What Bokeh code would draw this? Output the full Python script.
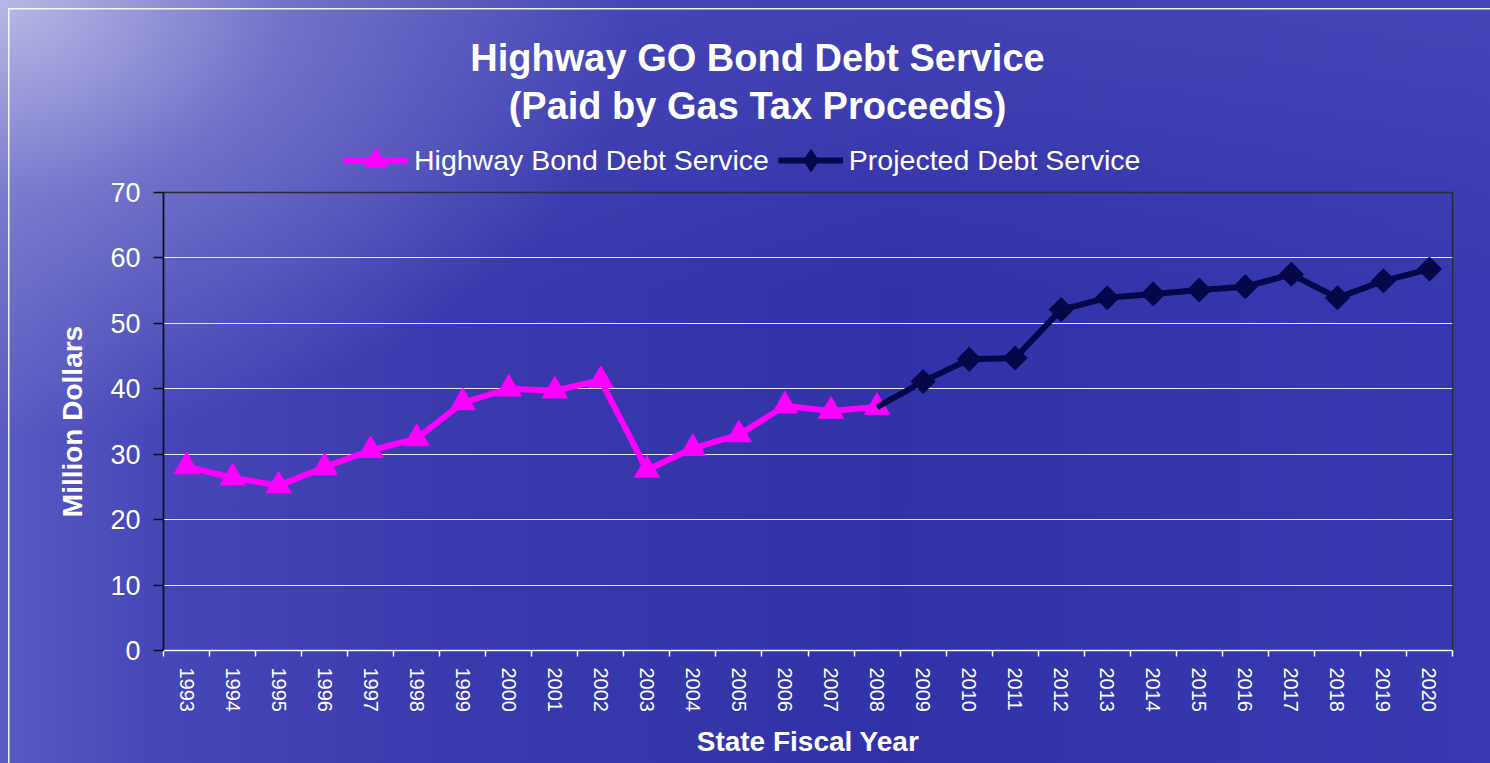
import numpy as np
from bokeh.plotting import figure
from bokeh.layouts import column
from bokeh.models import Legend, LegendItem, Label, FixedTicker, Range1d
from bokeh.embed import file_html
from bokeh.resources import INLINE

# ---- data ----
years = list(range(1993, 2021))
hist_years = list(range(1993, 2009))
hist_values = [28.1, 26.4, 25.2, 28.0, 30.6, 32.4, 37.9, 40.0, 39.7, 41.3,
               27.6, 30.9, 33.0, 37.4, 36.6, 37.2]
proj_years = list(range(2008, 2021))
proj_values = [37.2, 41.1, 44.5, 44.7, 52.1, 53.9, 54.5, 55.1, 55.6, 57.5,
               53.9, 56.5, 58.3]
y_ticks = [0, 10, 20, 30, 40, 50, 60, 70]
grid_ticks = [10, 20, 30, 40, 50, 60]

title_line1 = "Highway GO Bond Debt Service"
title_line2 = "(Paid by Gas Tax Proceeds)"
series_names = ["Highway Bond Debt Service", "Projected Debt Service"]
x_title = "State Fiscal Year"
y_title = "Million Dollars"

FONT = "Liberation Sans"
PINK = "#ff00ff"
NAVY = "#06064a"
W, HEAD_H, MAIN_H = 1490, 178, 585
BL, BR = 163, 38   # left / right borders (frames of both figures aligned)

BG_STYLES = {
    "background-image": (
        "linear-gradient(rgba(255,255,255,0.9), rgba(255,255,255,0.9)), "
        "linear-gradient(rgba(255,255,255,0.9), rgba(255,255,255,0.9)), "
        "radial-gradient(ellipse 640px 440px at 0px 0px, rgba(200,200,236,0.85) 0%, "
        "rgba(160,160,220,0.45) 45%, rgba(140,140,215,0) 100%), "
        "linear-gradient(180deg, rgba(95,95,200,0.35) 0%, rgba(95,95,200,0) 38%), "
        "linear-gradient(90deg, #5a5ac3 0%, #4747b8 10%, #3a3aae 30%, #3232a8 60%, #3838b0 100%)"
    ),
    "background-position": "8px 8px, 8px 8px, 0 0, 0 0, 0 0",
    "background-size": "1.5px 100%, 100% 1.5px, 100% 100%, 100% 100%, 100% 100%",
    "background-repeat": "no-repeat",
}

# ---- header (titles + legend); its frame uses page pixels ----
head = figure(width=W, height=HEAD_H, output_backend="svg", toolbar_location=None,
              x_range=Range1d(BL, W - BR), y_range=Range1d(HEAD_H, 0),
              x_axis_type=None, y_axis_type=None,
              min_border_left=BL, min_border_right=BR,
              min_border_top=0, min_border_bottom=0)
head.background_fill_alpha = 0
head.border_fill_alpha = 0
head.outline_line_color = None
head.grid.grid_line_color = None

for txt, yy in [(title_line1, 57), (title_line2, 105)]:
    head.add_layout(Label(x=757, y=yy, text=txt, text_align="center",
                          text_baseline="middle", text_color="white",
                          text_font=FONT, text_font_style="bold",
                          text_font_size="38px"))

# legend proxies: same series, they fall outside the header's ranges
hl1 = head.line(hist_years, hist_values, line_color=PINK, line_width=6)
hs1 = head.scatter(hist_years, hist_values, marker="triangle",
                   fill_color=PINK, line_color=PINK)
hl2 = head.line(proj_years, proj_values, line_color=NAVY, line_width=6)
hs2 = head.scatter(proj_years, proj_values, marker="diamond",
                   fill_color=NAVY, line_color=NAVY)
legend = Legend(items=[LegendItem(label=series_names[0], renderers=[hl1, hs1]),
                       LegendItem(label=series_names[1], renderers=[hl2, hs2])],
                orientation="horizontal", location=(180, -10),
                background_fill_alpha=0, border_line_color=None,
                label_text_color="white", label_text_font=FONT,
                label_text_font_size="28.5px",
                glyph_width=65, glyph_height=56, label_standoff=6,
                spacing=9, padding=0, margin=0)
head.add_layout(legend, "center")

# ---- main chart ----
p = figure(width=W, height=MAIN_H, output_backend="svg", toolbar_location=None,
           x_range=Range1d(years[0] - 0.5, years[-1] + 0.5),
           y_range=Range1d(0, 70),
           min_border_left=BL, min_border_right=BR,
           min_border_top=14, min_border_bottom=113)

p.background_fill_alpha = 0
p.border_fill_alpha = 0
p.outline_line_color = "#2a2a3a"
p.outline_line_width = 1.5

p.xgrid.grid_line_color = None
p.ygrid.ticker = FixedTicker(ticks=grid_ticks)
p.ygrid.grid_line_color = "#e8e8f4"
p.ygrid.grid_line_width = 1.2

p.xaxis.ticker = FixedTicker(ticks=years, minor_ticks=[y - 0.5 for y in years] + [years[-1] + 0.5])
p.xaxis.major_tick_line_color = None
p.xaxis.major_tick_out = 0
p.xaxis.major_tick_in = 0
p.xaxis.minor_tick_line_color = "white"
p.xaxis.minor_tick_out = 6
p.xaxis.minor_tick_in = 0
p.xaxis.minor_tick_line_width = 1.5
p.xaxis.axis_line_color = "white"
p.xaxis.axis_line_width = 1.5
p.xaxis.major_label_orientation = "vertical"
p.xaxis.major_label_text_color = "white"
p.xaxis.major_label_text_font = FONT
p.xaxis.major_label_text_font_size = "20px"
p.xaxis.major_label_standoff = 11
p.xaxis.axis_label = x_title
p.xaxis.axis_label_text_color = "white"
p.xaxis.axis_label_text_font = FONT
p.xaxis.axis_label_text_font_style = "bold"
p.xaxis.axis_label_text_font_size = "28px"
p.xaxis.axis_label_standoff = 11

p.yaxis.ticker = FixedTicker(ticks=y_ticks)
p.yaxis.minor_tick_line_color = None
p.yaxis.major_tick_out = 10
p.yaxis.major_tick_in = 0
p.yaxis.major_tick_line_color = "#101018"
p.yaxis.major_tick_line_width = 1.5
p.yaxis.axis_line_color = "#101018"
p.yaxis.axis_line_width = 1.5
p.yaxis.major_label_text_color = "white"
p.yaxis.major_label_text_font = FONT
p.yaxis.major_label_text_font_size = "27px"
p.yaxis.major_label_standoff = 13
p.yaxis.axis_label = y_title
p.yaxis.axis_label_text_color = "white"
p.yaxis.axis_label_text_font = FONT
p.yaxis.axis_label_text_font_style = "bold"
p.yaxis.axis_label_text_font_size = "28px"
p.yaxis.axis_label_standoff = 19

p.line(hist_years, hist_values, line_color=PINK, line_width=6)
p.scatter(hist_years, hist_values, marker="triangle", size=25,
          fill_color=PINK, line_color=PINK)
p.line(proj_years, proj_values, line_color=NAVY, line_width=6)
p.scatter(proj_years[1:], proj_values[1:], marker="square", angle=np.pi / 4,
          size=17, fill_color=NAVY, line_color=NAVY)

layout = column(head, p, spacing=0, styles=BG_STYLES)

open("out.html", "w").write(file_html(layout, INLINE))
